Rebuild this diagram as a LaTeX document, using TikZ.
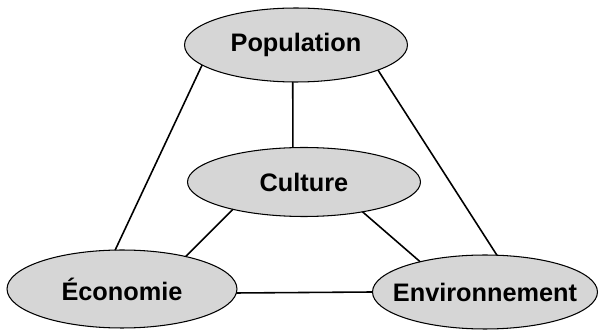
\documentclass[tikz,border=0pt]{standalone}
\usepackage{fontspec}
\setmainfont{Liberation Sans}
\usetikzlibrary{shapes}
\definecolor{bulle}{RGB}{214,214,214}

\begin{document}
\begin{tikzpicture}[x=0.02cm,y=-0.02cm]
    \tikzstyle{pole}=[ellipse,draw,fill=bulle,line width=0.6pt,inner sep=0pt,outer sep=0pt,font=\fontsize{14.4}{17}\selectfont\bfseries]
    \tikzstyle{lien}=[line width=0.9pt]
    \useasboundingbox (0,0) rectangle (600,331);
    \node[pole,minimum width=4.46cm,minimum height=1.48cm] (pop) at (296,45) {Population};
    \node[pole,minimum width=4.66cm,minimum height=1.38cm] (cul) at (304,182) {Culture};
    \node[pole,minimum width=4.60cm,minimum height=1.56cm] (eco) at (122,289) {Économie};
    \node[pole,inner xsep=-0.3cm,minimum width=4.50cm,minimum height=1.48cm] (env) at (485,292) {Environnement};
    \draw[lien] (pop.265) -- (cul.108);
    \draw[lien] (pop.192) -- (eco.100);
    \draw[lien] (pop.343) -- (env.72);
    \draw[lien] (cul.201) -- (eco.27);
    \draw[lien] (cul.333) -- (env.155);
    \draw[lien] (eco.358) -- (env.180);
\end{tikzpicture}
\end{document}
